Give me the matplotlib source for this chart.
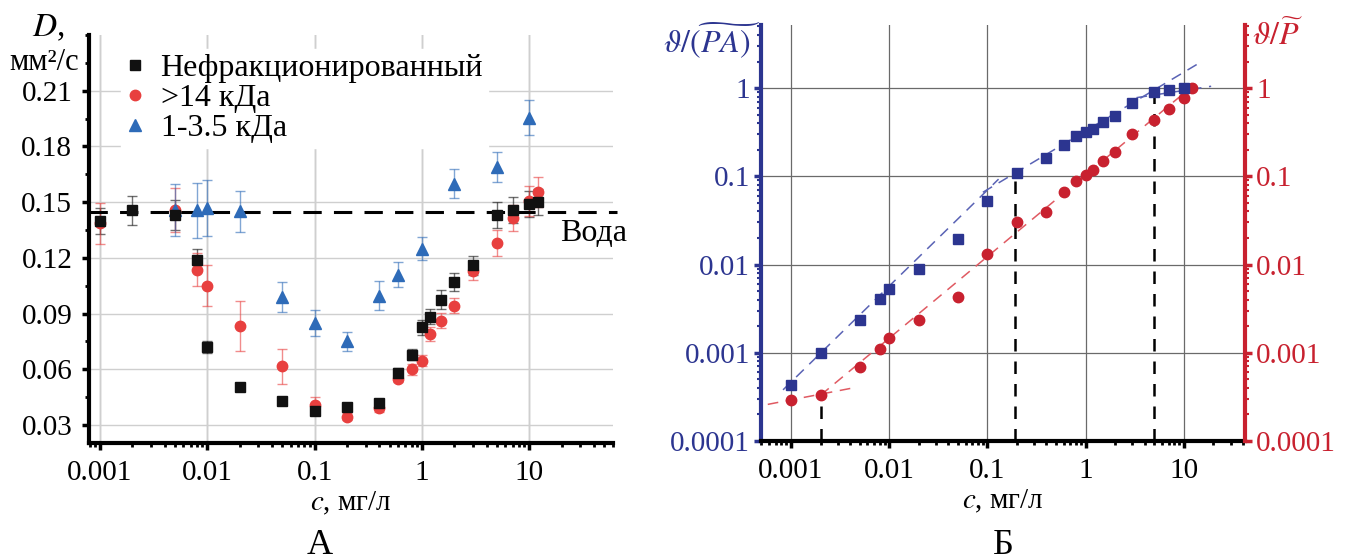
import matplotlib
matplotlib.use('Agg')
import matplotlib.pyplot as plt
from matplotlib.ticker import LogLocator, NullFormatter, MultipleLocator, FixedLocator, FixedFormatter

plt.rcParams['font.family'] = 'serif'
plt.rcParams['font.serif'] = ['Liberation Serif', 'DejaVu Serif']
plt.rcParams['mathtext.fontset'] = 'stix'

# ---------------- Panel A data ----------------
c_unfr = [0.001, 0.002, 0.005, 0.008, 0.01, 0.02, 0.05, 0.1, 0.2, 0.4, 0.6, 0.8, 1.0, 1.2, 1.5, 2.0, 3.0, 5.0, 7.0, 10.0, 12.0]
D_unfr = [0.140, 0.1457, 0.143, 0.119, 0.072, 0.0507, 0.0431, 0.0378, 0.0399, 0.0420, 0.0582, 0.0679, 0.0825, 0.0884, 0.0975, 0.107, 0.116, 0.143, 0.146, 0.149, 0.150]
e_unfr = [0.007, 0.0078, 0.008, 0.006, 0.003, 0.002, 0.0015, 0.0015, 0.0015, 0.002, 0.0025, 0.003, 0.004, 0.004, 0.005, 0.005, 0.005, 0.007, 0.007, 0.007, 0.007]

c_big = [0.001, 0.005, 0.008, 0.01, 0.02, 0.05, 0.1, 0.2, 0.4, 0.6, 0.8, 1.0, 1.2, 1.5, 2.0, 3.0, 5.0, 7.0, 10.0, 12.0]
D_big = [0.1386, 0.1457, 0.1137, 0.105, 0.0835, 0.0615, 0.041, 0.0345, 0.039, 0.055, 0.060, 0.0647, 0.079, 0.0862, 0.0943, 0.113, 0.128, 0.1415, 0.1505, 0.1555]
e_big = [0.011, 0.012, 0.009, 0.011, 0.0135, 0.0095, 0.004, 0.002, 0.002, 0.002, 0.003, 0.003, 0.004, 0.004, 0.004, 0.005, 0.007, 0.007, 0.008, 0.008]

c_small = [0.005, 0.008, 0.01, 0.02, 0.05, 0.1, 0.2, 0.4, 0.6, 1.0, 2.0, 5.0, 10.0]
D_small = [0.146, 0.1455, 0.147, 0.145, 0.099, 0.085, 0.075, 0.0997, 0.111, 0.125, 0.160, 0.169, 0.1955]
e_small = [0.014, 0.015, 0.015, 0.011, 0.008, 0.007, 0.005, 0.008, 0.0065, 0.006, 0.008, 0.008, 0.0095]

water_D = 0.1446
yticks_A = [0.03, 0.06, 0.09, 0.12, 0.15, 0.18, 0.21]
xticks = [0.001, 0.01, 0.1, 1, 10]
xticklabels = ['0.001', '0.01', '0.1', '1', '10']

# ---------------- Panel B data ----------------
c_B = [0.001, 0.002, 0.005, 0.008, 0.01, 0.02, 0.05, 0.1, 0.2, 0.4, 0.6, 0.8, 1.0, 1.2, 1.5, 2.0, 3.0, 5.0, 7.0, 10.0]
v_PA = [4.3e-4, 1.0e-3, 2.37e-3, 4.1e-3, 5.3e-3, 9.0e-3, 0.0197, 0.052, 0.108, 0.16, 0.225, 0.285, 0.32, 0.34, 0.41, 0.48, 0.68, 0.90, 0.96, 1.0]
c_P = [0.001, 0.002, 0.005, 0.008, 0.01, 0.02, 0.05, 0.1, 0.2, 0.4, 0.6, 0.8, 1.0, 1.2, 1.5, 2.0, 3.0, 5.0, 7.0, 10.0, 12.0]
v_P = [2.9e-4, 3.3e-4, 6.9e-4, 1.1e-3, 1.48e-3, 2.37e-3, 4.3e-3, 0.0133, 0.030, 0.039, 0.067, 0.088, 0.103, 0.117, 0.148, 0.19, 0.30, 0.44, 0.58, 0.77, 1.0]

# fit lines (endpoints)
fitPA1_x = [0.00083, 0.13]
fitPA1_y = [3.8e-4, 0.093]
fitPA2_x = [0.09, 15.2]
fitPA2_y = [0.066, 2.0]
fitPA3_x = [3.3, 19.0]
fitPA3_y = [0.78, 1.05]
fitP1_x = [0.00058, 0.0043]
fitP1_y = [2.6e-4, 4.0e-4]
fitP2_x = [0.002, 14.5]
fitP2_y = [3.3e-4, 1.23]
vlines_x = [0.002, 0.19, 5.0]
vlines_top = [3.2e-4, 0.1, 0.85]
yticks_B = [1e-4, 1e-3, 1e-2, 1e-1, 1]
yticklabels_B = ['0.0001', '0.001', '0.01', '0.1', '1']

BLACK = '#111111'
RED_A = '#e8403f'
BLUE_A = '#2e6bb8'
NAVY = '#2c3590'
RED_B = '#c8212f'

TICK_FS = 21

fig = plt.figure(figsize=(13.5, 5.59), dpi=100)

# ================= Panel A =================
axA = fig.add_axes([0.0659, 0.2075, 0.388, 0.730])
axA.set_xscale('log')
axA.set_xlim(0.00079, 60)
axA.set_ylim(0.0203, 0.24)
axA.grid(True, which='major', color='#cfcfcf', lw=1.0, zorder=0)
for x in xticks:
    axA.axvline(x, color='#b5b5b5', lw=1.0, zorder=0)

eb_kw = dict(capsize=3.5, elinewidth=1.0, capthick=1.0, linestyle='none')
axA.errorbar(c_unfr, D_unfr, yerr=e_unfr, fmt='none', ecolor=BLACK, alpha=0.6, zorder=2, **eb_kw)
axA.errorbar(c_big, D_big, yerr=e_big, fmt='none', ecolor=RED_A, alpha=0.6, zorder=2, **eb_kw)
axA.errorbar(c_small, D_small, yerr=e_small, fmt='none', ecolor=BLUE_A, alpha=0.6, zorder=2, **eb_kw)
axA.plot(c_unfr, D_unfr, 's', color=BLACK, ms=6.5, zorder=4, label='Нефракционированный')
axA.plot(c_big, D_big, 'o', color=RED_A, ms=7.5, zorder=3, label='>14 кДа')
axA.plot(c_small, D_small, '^', color=BLUE_A, ms=8, zorder=3, label='1-3.5 кДа')
axA.axhline(water_D, xmin=0, xmax=1.008, color='black', lw=2.2, ls=(0, (6, 4)), zorder=2, clip_on=False)
axA.text(19.5, 0.1333, 'Вода', fontsize=23, va='center', ha='left')

leg = axA.legend(loc='upper left', bbox_to_anchor=(0.03, 1.005), fontsize=23, frameon=True,
                 handlelength=0.6, handletextpad=0.5, borderpad=0.15, labelspacing=0.02,
                 fancybox=False, edgecolor='white', framealpha=1.0)
leg.set_zorder(5)

for s in ['top', 'right']:
    axA.spines[s].set_visible(False)
for s in ['left', 'bottom']:
    axA.spines[s].set_linewidth(3)
    axA.spines[s].set_color('black')
axA.xaxis.set_major_locator(FixedLocator(xticks))
axA.xaxis.set_major_formatter(FixedFormatter(xticklabels))
axA.xaxis.set_minor_locator(LogLocator(base=10, subs=range(2, 10), numticks=20))
axA.xaxis.set_minor_formatter(NullFormatter())
axA.yaxis.set_major_locator(FixedLocator(yticks_A))
axA.yaxis.set_major_formatter(FixedFormatter(['%.2f' % v for v in yticks_A]))
axA.yaxis.set_minor_locator(MultipleLocator(0.015))
axA.tick_params(which='major', direction='out', length=5, width=2.5, labelsize=TICK_FS, pad=7)
axA.tick_params(which='minor', direction='out', length=3, width=2)
axA.set_xlabel('$c$, мг/л', fontsize=21, labelpad=3)
fig.text(0.036, 0.95, '$D$,', fontsize=24, ha='center', va='center')
fig.text(0.033, 0.888, 'мм²/с', fontsize=22, ha='center', va='center')
fig.text(0.237, 0.025, 'А', fontsize=26, ha='center', va='center')

# ================= Panel B =================
axB = fig.add_axes([0.5637, 0.2111, 0.3585, 0.7442])
axB.set_xscale('log')
axB.set_yscale('log')
axB.set_xlim(0.000495, 42)
axB.set_ylim(1e-4, 5.2)
axB.grid(True, which='major', color='#6a6a6a', lw=0.9, zorder=0)

for x, top in zip(vlines_x, vlines_top):
    axB.plot([x, x], [1e-4, top], color='black', lw=1.8, ls=(0, (5, 4)), zorder=2)
axB.plot(fitPA1_x, fitPA1_y, color='#5a63b5', lw=1.1, ls=(0, (7, 5)), zorder=2)
axB.plot(fitPA2_x, fitPA2_y, color='#5a63b5', lw=1.1, ls=(0, (7, 5)), zorder=2)
axB.plot(fitPA3_x, fitPA3_y, color='#5a63b5', lw=1.1, ls=(0, (7, 5)), zorder=2)
axB.plot(fitP1_x, fitP1_y, color='#e05a62', lw=1.1, ls=(0, (7, 5)), zorder=2)
axB.plot(fitP2_x, fitP2_y, color='#e05a62', lw=1.1, ls=(0, (7, 5)), zorder=2)
axB.plot(c_B, v_PA, 's', color=NAVY, ms=6.5, zorder=4)
axB.plot(c_P, v_P, 'o', color=RED_B, ms=7.5, zorder=3)

axB.spines['top'].set_visible(False)
axB.spines['right'].set_visible(False)
axB.spines['left'].set_color(NAVY)
axB.spines['left'].set_linewidth(3)
axB.spines['bottom'].set_color('black')
axB.spines['bottom'].set_linewidth(3)
axB.xaxis.set_major_locator(FixedLocator(xticks))
axB.xaxis.set_major_formatter(FixedFormatter(xticklabels))
axB.xaxis.set_minor_locator(LogLocator(base=10, subs=range(2, 10), numticks=20))
axB.xaxis.set_minor_formatter(NullFormatter())
axB.yaxis.set_major_locator(FixedLocator(yticks_B))
axB.yaxis.set_major_formatter(FixedFormatter(yticklabels_B))
axB.yaxis.set_minor_locator(LogLocator(base=10, subs=range(2, 10), numticks=20))
axB.yaxis.set_minor_formatter(NullFormatter())
axB.tick_params(axis='x', which='major', direction='out', length=5, width=2.5, labelsize=TICK_FS, pad=7)
axB.tick_params(axis='x', which='minor', direction='out', length=3, width=2)
axB.tick_params(axis='y', which='major', direction='out', length=5, width=2.5, labelsize=TICK_FS,
                colors=NAVY, pad=3)
axB.tick_params(axis='y', which='minor', direction='out', length=3, width=1.5, colors=NAVY)
axB.set_xlabel('$c$, мг/л', fontsize=21, labelpad=3)

axR = axB.twinx()
axR.set_yscale('log')
axR.set_ylim(1e-4, 5.2)
for s in ['top', 'left', 'bottom']:
    axR.spines[s].set_visible(False)
axR.spines['right'].set_color(RED_B)
axR.spines['right'].set_linewidth(3)
axR.yaxis.set_major_locator(FixedLocator(yticks_B))
axR.yaxis.set_major_formatter(FixedFormatter(yticklabels_B))
axR.yaxis.set_minor_locator(LogLocator(base=10, subs=range(2, 10), numticks=20))
axR.yaxis.set_minor_formatter(NullFormatter())
axR.tick_params(axis='y', which='major', direction='out', length=5, width=2.5, labelsize=TICK_FS,
                colors=RED_B, pad=3)
axR.tick_params(axis='y', which='minor', direction='out', length=3, width=1.5, colors=RED_B)

fig.text(0.527, 0.928, r'$\vartheta/\widetilde{(PA)}$', fontsize=23, color=NAVY, ha='center', va='center')
fig.text(0.946, 0.935, r'$\vartheta/\widetilde{P}$', fontsize=23, color=RED_B, ha='center', va='center')
fig.text(0.743, 0.025, 'Б', fontsize=26, ha='center', va='center')

fig.savefig('out.png', dpi=100)
